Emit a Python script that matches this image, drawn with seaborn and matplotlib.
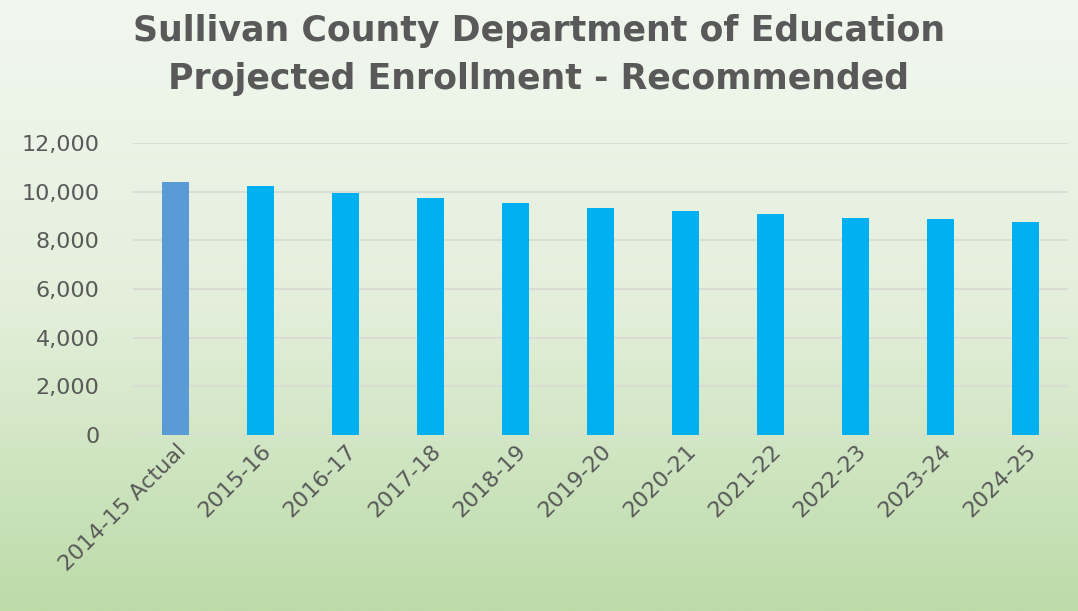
import numpy as np
import pandas as pd
import matplotlib
matplotlib.use("Agg")
import matplotlib.pyplot as plt
import seaborn as sns
from matplotlib.colors import LinearSegmentedColormap
from matplotlib.ticker import FuncFormatter

categories = ["2014-15 Actual", "2015-16", "2016-17", "2017-18", "2018-19", "2019-20",
              "2020-21", "2021-22", "2022-23", "2023-24", "2024-25"]
enrollment = [10390, 10226, 9938, 9720, 9515, 9322, 9199, 9063, 8911, 8858, 8735]
kind = ["Actual"] + ["Projected"] * 10

df = pd.DataFrame({"year": categories, "enrollment": enrollment, "kind": kind})

sns.set_theme(style="white")
plt.rcParams["font.family"] = ["DejaVu Sans"]

fig = plt.figure(figsize=(10.78, 6.11), dpi=100)

# background gradient
bg = fig.add_axes([0, 0, 1, 1], zorder=0)
cmap = LinearSegmentedColormap.from_list("bg", ["#f2f7ef", "#e3efdb", "#bcdba8"])
grad = np.linspace(0, 1, 256).reshape(-1, 1)
bg.imshow(grad, aspect="auto", cmap=cmap, extent=[0, 1, 0, 1], origin="upper")
bg.axis("off")

ax = fig.add_axes([133 / 1078, 1 - 435 / 611, (1068 - 133) / 1078, (435 - 143) / 611], zorder=1)
ax.patch.set_alpha(0)

sns.barplot(data=df, x="year", y="enrollment", hue="kind",
            palette={"Actual": "#5B9BD5", "Projected": "#00B0F0"},
            dodge=False, width=0.32, legend=False, ax=ax, saturation=1, linewidth=0)

ax.set_ylim(0, 12000)
ax.set_yticks(range(0, 12001, 2000))
ax.yaxis.set_major_formatter(FuncFormatter(lambda v, p: f"{int(v):,}"))
ax.set_xlim(-0.5, len(categories) - 0.5)
ax.grid(axis="y", color="#d8dbd5", linewidth=1.3)
ax.set_axisbelow(True)
for s in ax.spines.values():
    s.set_visible(False)
ax.set_xlabel("")
ax.set_ylabel("")
ax.tick_params(axis="y", labelsize=16, labelcolor="#595959", length=0, pad=24)
ax.tick_params(axis="x", labelsize=16, labelcolor="#595959", length=0, pad=4)
plt.setp(ax.get_xticklabels(), rotation=45, ha="right", rotation_mode="anchor")

fig.text(0.5, 1 - 31 / 611, "Sullivan County Department of Education", ha="center", va="center",
         fontsize=25, fontweight="bold", color="#595959")
fig.text(0.5, 1 - 79 / 611, "Projected Enrollment - Recommended", ha="center", va="center",
         fontsize=25, fontweight="bold", color="#595959")

fig.savefig("out.png", dpi=100)
